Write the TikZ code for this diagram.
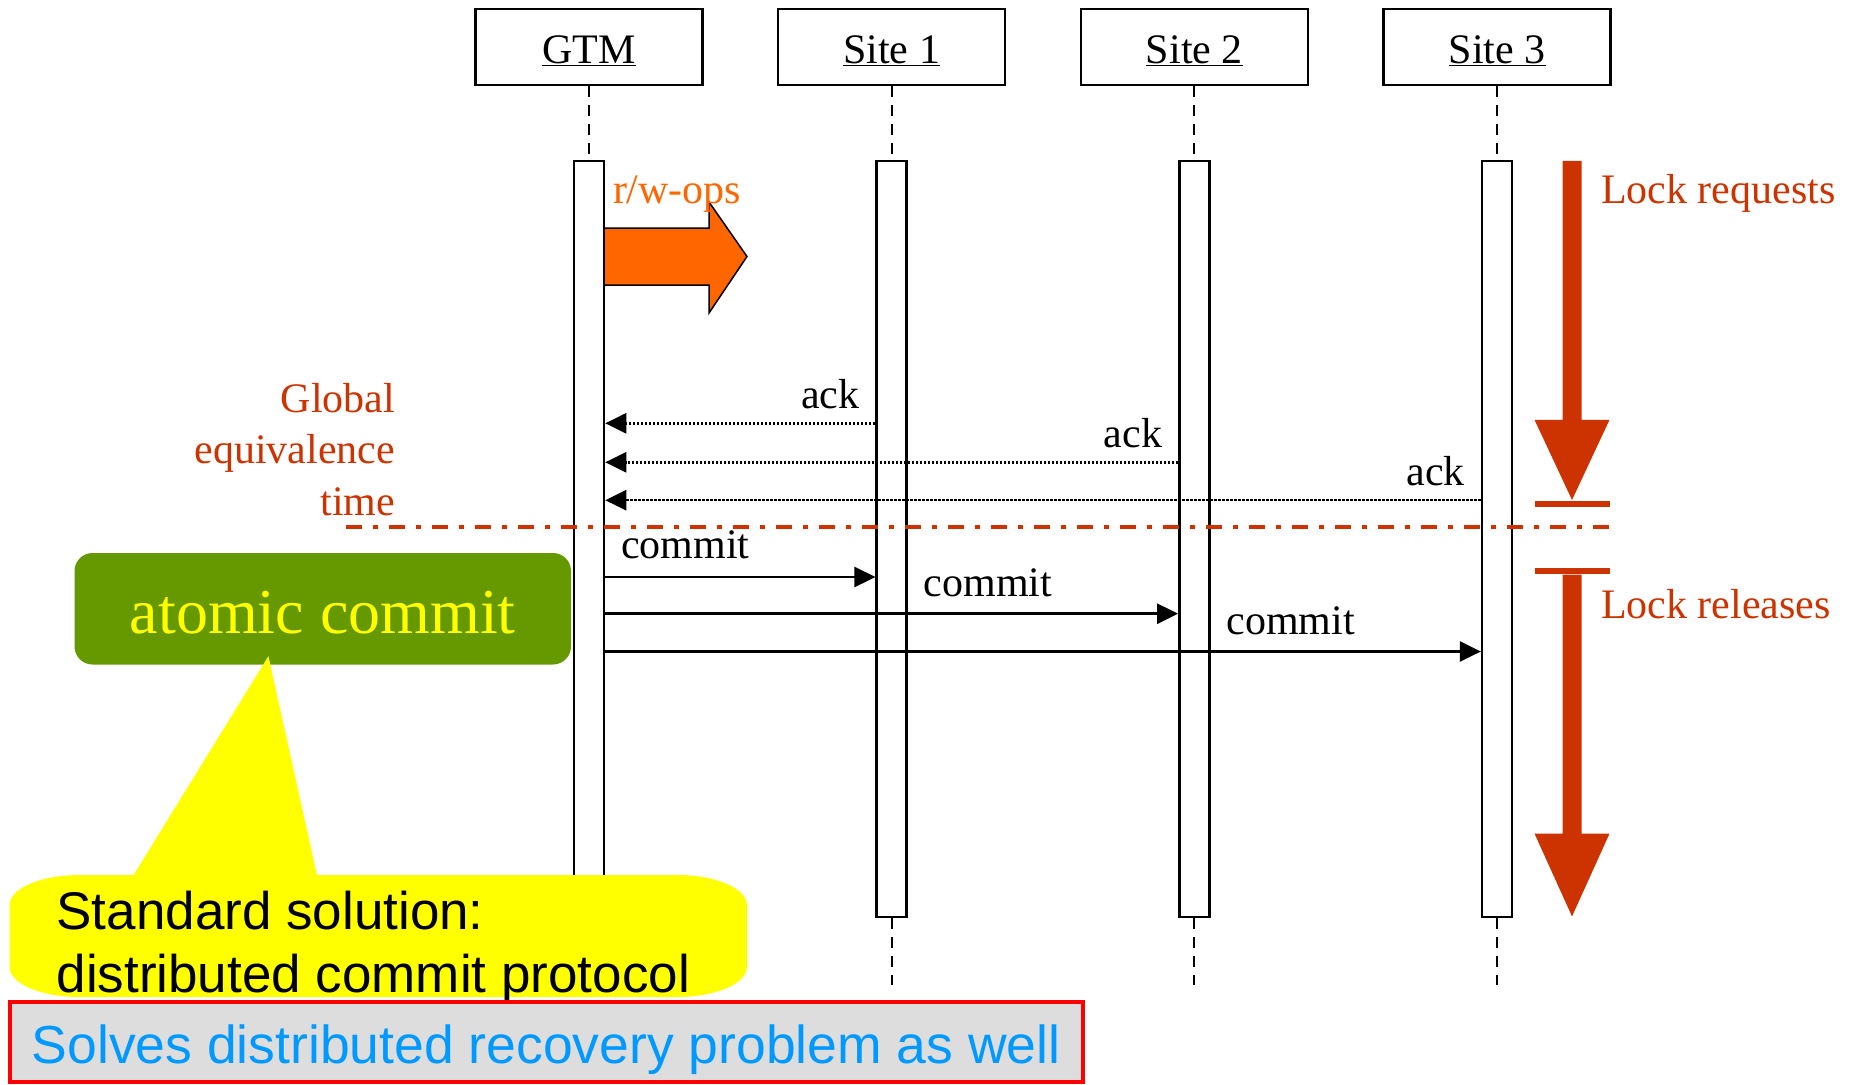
\documentclass[tikz,border=0pt]{standalone}
\usepackage{fontspec}
\setmainfont{Liberation Serif}
\setsansfont{Liberation Sans}
\usetikzlibrary{arrows.meta,positioning,calc}

\definecolor{lockred}{RGB}{204,51,0}
\definecolor{opsorange}{RGB}{255,102,0}
\definecolor{olivegreen}{RGB}{102,153,0}
\definecolor{callyellow}{RGB}{255,255,0}
\definecolor{solveblue}{RGB}{0,153,255}
\definecolor{boxgray}{RGB}{221,221,221}

\tikzset{every picture/.style={line width=2pt}}
\tikzset{
	party/.style={draw, line width=2.5pt, minimum width=227pt, minimum height=76pt, inner sep=0pt, text height=33pt, text depth=0pt, font=\fontsize{42}{48}\selectfont},
	lifebar/.style={draw, fill=white, line width=2.5pt, minimum width=30pt, minimum height=756pt, inner sep=0pt},
	lifeline/.style={line width=2pt, dash pattern=on 11pt off 8pt},
	msg/.style={line width=2.5pt, -{Triangle[length=21pt,width=20pt]}},
	ackmsg/.style={msg, dash pattern=on 2.5pt off 1.5pt},
	lbl/.style={inner sep=0pt, font=\fontsize{42}{51.5}\selectfont},
}

\begin{document}
\begin{tikzpicture}[x=1pt,y=1pt,yscale=-1,xscale=1]
	\useasboundingbox (0,0) rectangle (1854,1084);

	% Header boxes
	\node[party] (gtm) at (589,47) {\underline{GTM}};
	\node[party, right=73.2pt of gtm] (site1) {\underline{Site 1}};
	\node[party, right=73.2pt of site1] (site2) {\underline{Site 2}};
	\node[party, right=73.2pt of site2] (site3) {\underline{Site 3}};

	% Activation bars
	\node[lifebar, below=73.3pt of gtm] (gtmbar) {};
	\node[lifebar, below=73.3pt of site1] (site1bar) {};
	\node[lifebar, below=73.3pt of site2] (site2bar) {};
	\node[lifebar, below=73.3pt of site3] (site3bar) {};

	% Lifelines
	\coordinate (gtmend) at ($(gtmbar.south)+(0,67.4)$);
	\coordinate (site1end) at ($(site1bar.south)+(0,67.4)$);
	\coordinate (site2end) at ($(site2bar.south)+(0,67.4)$);
	\coordinate (site3end) at ($(site3bar.south)+(0,67.4)$);
	\draw[lifeline] (gtm) -- (gtmbar);
	\draw[lifeline] (site1) -- (site1bar);
	\draw[lifeline] (site2) -- (site2bar);
	\draw[lifeline] (site3) -- (site3bar);
	\draw[lifeline] (gtmbar) -- (gtmend);
	\draw[lifeline] (site1bar) -- (site1end);
	\draw[lifeline] (site2bar) -- (site2end);
	\draw[lifeline] (site3bar) -- (site3end);

	% r/w-ops block arrow
	\draw[line width=1.5pt, fill=opsorange] (604,228) -- (709,228) -- (709,202) -- (747,256.5) -- (709,313) -- (709,285) -- (604,285) -- cycle;
	\node[lbl, text=opsorange, anchor=base west] (rwops) at (612,203) {r/w-ops};

	% Acknowledgements
	\coordinate (a1) at (0,423.3);
	\coordinate (a2) at (0,462.3);
	\coordinate (a3) at (0,500.2);
	\draw[ackmsg] (site1bar.west |- a1) -- (gtmbar.east |- a1);
	\draw[ackmsg] (site2bar.west |- a2) -- (gtmbar.east |- a2);
	\draw[ackmsg] (site3bar.west |- a3) -- (gtmbar.east |- a3);
	\node[lbl, anchor=base east] (ack1) at ($(site1bar.west |- a1)+(-15,-15)$) {ack};
	\node[lbl, anchor=base east] (ack2) at ($(site2bar.west |- a2)+(-15,-15)$) {ack};
	\node[lbl, anchor=base east] (ack3) at ($(site3bar.west |- a3)+(-15,-15)$) {ack};

	% Commits
	\coordinate (c1) at (0,577);
	\coordinate (c2) at (0,613.7);
	\coordinate (c3) at (0,651.5);
	\draw[msg] (gtmbar.east |- c1) -- (site1bar.west |- c1);
	\draw[msg] (gtmbar.east |- c2) -- (site2bar.west |- c2);
	\draw[msg] (gtmbar.east |- c3) -- (site3bar.west |- c3);
	\node[lbl, anchor=base west] (commit1) at ($(gtmbar.east |- c1)+(15,-19)$) {commit};
	\node[lbl, anchor=base west] (commit2) at ($(site1bar.east |- c2)+(15,-17.5)$) {commit};
	\node[lbl, anchor=base west] (commit3) at ($(site2bar.east |- c3)+(15,-17.5)$) {commit};

	% Global equivalence time
	\coordinate (getl) at (346.4,527.4);
	\coordinate (getr) at (1610,527.4);
	\draw[lockred, line width=4pt, dash pattern=on 16pt off 11pt on 5pt off 11pt] (getl) -- (getr);
	\node[lbl, text=lockred, align=right, anchor=north east] (getime) at (396,382) {Global\\equivalence\\time};

	% Lock arrows
	\fill[lockred] (1562.5,160.8) -- (1581.5,160.8) -- (1581.5,419.8) -- (1609.5,419.8) -- (1572,500) -- (1534.5,419.8) -- (1562.5,419.8) -- cycle;
	\fill[lockred] (1562.5,574.6) -- (1581.5,574.6) -- (1581.5,833.6) -- (1609.5,833.6) -- (1572,916.4) -- (1534.5,833.6) -- (1562.5,833.6) -- cycle;
	\draw[lockred, line width=6pt] (1534.7,503.7) -- (1610.4,503.7);
	\draw[lockred, line width=6pt] (1534.7,571) -- (1610.4,571);
	\node[lbl, text=lockred, anchor=base west] (lockreq) at (1600,203) {Lock requests};
	\node[lbl, text=lockred, anchor=base west] (lockrel) at (1600,618) {Lock releases};

	% atomic commit
	\node[fill=olivegreen, rounded corners=18pt, minimum width=496.5pt, minimum height=111.5pt, inner sep=0pt, text height=50pt, text depth=0pt, text=callyellow, font=\fontsize{64}{72}\selectfont] (atomic) at (322.75,608.75) {atomic commit};

	% Callout
	\coordinate (tip) at (268.4,656.2);
	\fill[callyellow] (79.5,875) -- (133.6,875) -- (tip) -- (316.9,875) -- (677,875) arc[start angle=-90, end angle=0, x radius=70, y radius=30] -- (747,967) arc[start angle=0, end angle=90, x radius=70, y radius=30] -- (79.5,997) arc[start angle=90, end angle=180, x radius=70, y radius=30] -- (9.5,905) arc[start angle=180, end angle=270, x radius=70, y radius=30] -- cycle;
	\node[inner sep=0pt, align=left, anchor=north west, font=\sffamily\fontsize{53}{63}\selectfont] (standard) at (55.6,890) {Standard solution:\\distributed commit protocol};

	% Recovery box
	\node[draw=red, line width=4pt, fill=boxgray, minimum width=1073.5pt, minimum height=80.5pt, inner sep=0pt, text height=44pt, text depth=0pt, text=solveblue, font=\sffamily\fontsize{53.5}{63}\selectfont] (solves) at (546.25,1041.75) {Solves distributed recovery problem as well};

\end{tikzpicture}
\end{document}
